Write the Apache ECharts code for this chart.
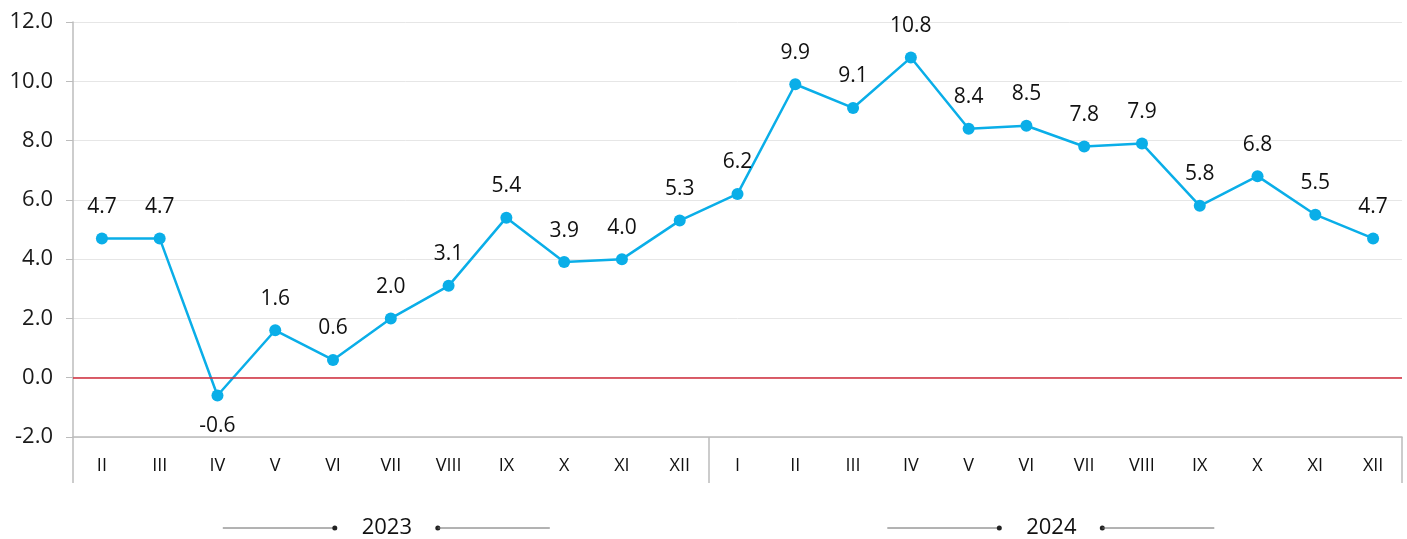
<!DOCTYPE html>
<html lang="en">
<head>
    <meta charset="UTF-8">
    <title>chart</title>
    <script src="https://cdn.jsdelivr.net/npm/echarts@6/dist/echarts.min.js"></script>
    <style>
        html, body { margin: 0; padding: 0; background: #fff; }
        #main { width: 1407px; height: 539px; }
    </style>
</head>
<body>
<div id="main"></div>
<script>
    // data
    var years = ['2023', '2024'];
    var months2023 = ['II', 'III', 'IV', 'V', 'VI', 'VII', 'VIII', 'IX', 'X', 'XI', 'XII'];
    var months2024 = ['I', 'II', 'III', 'IV', 'V', 'VI', 'VII', 'VIII', 'IX', 'X', 'XI', 'XII'];
    var values2023 = [4.7, 4.7, -0.6, 1.6, 0.6, 2.0, 3.1, 5.4, 3.9, 4.0, 5.3];
    var values2024 = [6.2, 9.9, 9.1, 10.8, 8.4, 8.5, 7.8, 7.9, 5.8, 6.8, 5.5, 4.7];
    var yTicks = [-2, 0, 2, 4, 6, 8, 10, 12];

    var categories = months2023.concat(months2024);
    var values = values2023.concat(values2024);
    var groupStarts = [0, months2023.length];
    var groupEnds = [months2023.length - 1, categories.length - 1];

    var font = 'Open Sans';
    var myChart = echarts.init(document.getElementById('main'));

    var option = {
        animation: false,
        textStyle: {fontFamily: font},
        grid: {left: 73, right: 5, top: 22, bottom: 102},
        xAxis: {
            type: 'category',
            data: categories,
            boundaryGap: true,
            axisLine: {onZero: false, lineStyle: {color: '#bcbcbc', width: 1.5}},
            axisTick: {
                show: true,
                length: 46,
                lineStyle: {color: '#bcbcbc', width: 1.5},
                interval: function (index) {
                    return groupStarts.indexOf(index) !== -1;
                }
            },
            axisLabel: {interval: 0, margin: 20, fontSize: 18, color: '#111', fontFamily: font}
        },
        yAxis: {
            type: 'value',
            min: yTicks[0],
            max: yTicks[yTicks.length - 1],
            interval: 2,
            axisLine: {show: true, lineStyle: {color: '#bcbcbc', width: 1.5}},
            axisTick: {show: true, length: 7, lineStyle: {color: '#bcbcbc'}},
            axisLabel: {
                fontSize: 22, color: '#1a1a1a', margin: 20, fontFamily: font,
                formatter: function (v) { return v.toFixed(1); }
            },
            splitLine: {lineStyle: {color: '#e6e6e6', width: 1}}
        },
        series: [{
            type: 'line',
            data: values,
            symbol: 'circle',
            symbolSize: 12,
            itemStyle: {color: '#0aaee8'},
            lineStyle: {color: '#0aaee8', width: 2.5},
            label: {
                show: true,
                position: 'top',
                distance: 15,
                fontSize: 21,
                color: '#111',
                fontFamily: font,
                formatter: function (p) { return p.value.toFixed(1); }
            },
            labelLayout: function (p) {
                return values[p.dataIndex] < 0 ? {dy: 62} : {};
            },
            markLine: {
                silent: true,
                symbol: ['none', 'none'],
                label: {show: false},
                lineStyle: {color: '#d02a3a', width: 1.5, type: 'solid'},
                data: [{yAxis: 0}]
            },
            z: 3
        }]
    };

    myChart.setOption(option);

    // year labels under each group
    var graphics = [];
    var labelY = 528;
    years.forEach(function (yr, i) {
        var x0 = myChart.convertToPixel({xAxisIndex: 0}, groupStarts[i]);
        var x1 = myChart.convertToPixel({xAxisIndex: 0}, groupEnds[i]);
        var cx = (x0 + x1) / 2 - 4;
        graphics.push(
            {type: 'line', shape: {x1: cx - 164, y1: labelY, x2: cx - 52, y2: labelY}, style: {stroke: '#666', lineWidth: 1}},
            {type: 'circle', shape: {cx: cx - 52, cy: labelY, r: 2.5}, style: {fill: '#222'}},
            {type: 'text', x: cx, y: labelY, style: {text: yr, fontSize: 22, fontFamily: font, fill: '#111', align: 'center', verticalAlign: 'middle'}},
            {type: 'circle', shape: {cx: cx + 51, cy: labelY, r: 2.5}, style: {fill: '#222'}},
            {type: 'line', shape: {x1: cx + 51, y1: labelY, x2: cx + 163, y2: labelY}, style: {stroke: '#666', lineWidth: 1}}
        );
    });
    myChart.setOption({graphic: graphics});
</script>
</body>
</html>
